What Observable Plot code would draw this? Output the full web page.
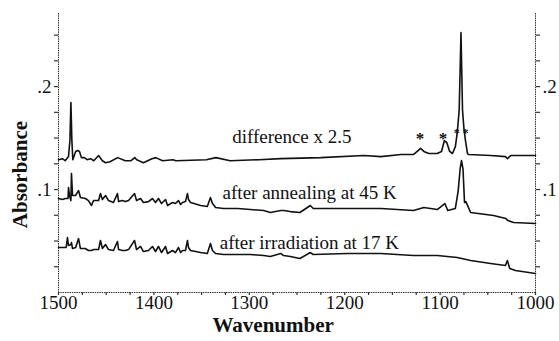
<!DOCTYPE html>
<html>
<head>
<meta charset="utf-8">
<script src="https://cdn.jsdelivr.net/npm/d3@7"></script>
<script src="https://cdn.jsdelivr.net/npm/@observablehq/plot@0.6"></script>
<style>
  html, body { margin: 0; padding: 0; background: #fff; }
</style>
</head>
<body>
<script>
// Wavenumber ticks (cm-1): labelled majors and minor ticks
const xMajor = [1500, 1400, 1300, 1200, 1100, 1000];
const xMinor = [1500, 1475, 1450, 1425, 1400, 1375, 1350, 1325, 1300, 1275, 1250, 1225, 1200, 1175, 1150, 1125, 1100, 1075, 1050, 1025, 1000];
const yTicks = [0.025, 0.05, 0.075, 0.1, 0.125, 0.15, 0.175, 0.2, 0.225, 0.25];
const yLabels = {"0.1": ".1", "0.2": ".2"};

// difference x 2.5 spectrum
const diffWn  = [1500, 1496, 1493, 1489.5, 1488, 1487, 1486, 1485, 1482, 1480, 1478, 1476, 1473, 1470, 1466.5, 1463, 1458, 1454, 1450.7, 1446, 1438, 1430, 1424, 1420, 1418, 1411, 1402, 1398, 1391, 1380, 1377, 1345, 1335, 1320, 1290, 1267, 1225, 1180, 1162, 1141, 1128, 1124, 1120.5, 1117, 1112, 1103, 1098.5, 1095.5, 1093, 1090, 1087, 1084, 1082, 1080, 1078.1, 1076.5, 1075, 1073.4, 1071.3, 1070, 1047, 1031.5, 1029.4, 1026, 1000];
const diffAbs = [0.129, 0.130, 0.128, 0.132, 0.148, 0.1845, 0.148, 0.129, 0.137, 0.138, 0.137, 0.131, 0.131, 0.129, 0.130, 0.128, 0.133, 0.128, 0.126, 0.127, 0.131, 0.128, 0.128, 0.131, 0.129, 0.126, 0.130, 0.131, 0.128, 0.129, 0.128, 0.129, 0.131, 0.128, 0.129, 0.130, 0.131, 0.133, 0.132, 0.134, 0.134, 0.137, 0.140, 0.137, 0.135, 0.135, 0.137, 0.1476, 0.1456, 0.137, 0.135, 0.1417, 0.1553, 0.177, 0.2524, 0.177, 0.1592, 0.1476, 0.135, 0.134, 0.133, 0.132, 0.130, 0.133, 0.133];

// after annealing at 45 K
const annWn  = [1500, 1496, 1492.7, 1490, 1489.5, 1488.5, 1487, 1486.4, 1485.3, 1482.2, 1479, 1477, 1471.7, 1468.6, 1465.4, 1463.3, 1458, 1456, 1454, 1450.7, 1447.6, 1442.4, 1438.2, 1437, 1433, 1430, 1426.6, 1420.3, 1418.2, 1414, 1411, 1405.7, 1401.5, 1398.3, 1395.2, 1392, 1387.8, 1385.7, 1380.5, 1377.4, 1374.2, 1372, 1370, 1366.9, 1364.8, 1363.7, 1361.6, 1351, 1344, 1340.7, 1338.6, 1335.4, 1327, 1312, 1299, 1285, 1278, 1267, 1264, 1257, 1247, 1236, 1233, 1197, 1162, 1128, 1117, 1103, 1095, 1092, 1084, 1081, 1079, 1077.6, 1076, 1074.4, 1073, 1068, 1044, 1031, 1029, 1023, 1000];
const annAbs = [0.0913, 0.0903, 0.0913, 0.0913, 0.1019, 0.0942, 0.0893, 0.1155, 0.0942, 0.0942, 0.0990, 0.0922, 0.0913, 0.0893, 0.0845, 0.0893, 0.0893, 0.0961, 0.0903, 0.0942, 0.0893, 0.0874, 0.0961, 0.0883, 0.0893, 0.0883, 0.0893, 0.0961, 0.0893, 0.0913, 0.0874, 0.0883, 0.0913, 0.0874, 0.0913, 0.0864, 0.0903, 0.0845, 0.0874, 0.0864, 0.0893, 0.0854, 0.0874, 0.0883, 0.0961, 0.0903, 0.0874, 0.0845, 0.0835, 0.0922, 0.0864, 0.0825, 0.0816, 0.0816, 0.0806, 0.0796, 0.0777, 0.0796, 0.0796, 0.0786, 0.0777, 0.0845, 0.0816, 0.0816, 0.0816, 0.0796, 0.0825, 0.0806, 0.0864, 0.0796, 0.0816, 0.0990, 0.120, 0.1282, 0.120, 0.0874, 0.0883, 0.0777, 0.0748, 0.0718, 0.0699, 0.0680, 0.0670];

// after irradiation at 17 K
const irrWn  = [1500, 1496, 1492, 1490.6, 1489.5, 1487, 1486.4, 1485.3, 1482, 1479, 1477, 1472, 1468.6, 1465.4, 1463, 1458, 1456, 1454, 1450.7, 1447.6, 1442.4, 1438.2, 1437, 1433, 1430, 1426.6, 1420.3, 1418.2, 1414, 1411, 1405.7, 1401.5, 1398.3, 1395.2, 1392, 1387.8, 1385.7, 1380.5, 1377.4, 1374.2, 1372, 1370, 1366.9, 1364.8, 1363.7, 1361.6, 1351, 1344, 1340.7, 1338.6, 1335.4, 1327, 1312, 1299, 1285, 1278, 1267, 1264, 1257, 1247, 1236, 1233, 1197, 1162, 1128, 1103, 1082, 1068, 1047, 1031.5, 1029.5, 1027, 1021, 1000];
const irrAbs = [0.0437, 0.0437, 0.0437, 0.0534, 0.0456, 0.0466, 0.0485, 0.0427, 0.0437, 0.0524, 0.0427, 0.0427, 0.0408, 0.0408, 0.0417, 0.0417, 0.0505, 0.0427, 0.0466, 0.0417, 0.0408, 0.0495, 0.0417, 0.0408, 0.0408, 0.0417, 0.0505, 0.0417, 0.0447, 0.0398, 0.0408, 0.0447, 0.0398, 0.0447, 0.0388, 0.0447, 0.0379, 0.0408, 0.0388, 0.0437, 0.0388, 0.0408, 0.0408, 0.0505, 0.0437, 0.0408, 0.0388, 0.0379, 0.0476, 0.0408, 0.0379, 0.0369, 0.0369, 0.0369, 0.0359, 0.0350, 0.0379, 0.0359, 0.0350, 0.0330, 0.0388, 0.0369, 0.0379, 0.0379, 0.0359, 0.0359, 0.0340, 0.0311, 0.0282, 0.0262, 0.0311, 0.0233, 0.0214, 0.0184];

// trace labels, axis titles and asterisk markers (annotation anchors in data units)
const labelText = ["difference x 2.5", "after annealing at 45 K", "after irradiation at 17 K"];
const labelWn   = [1318, 1328, 1331];
const labelAbs  = [0.1515, 0.097, 0.0485];
const starWn    = [1121, 1097];
const starAbs   = [0.150, 0.150];
const smallStarWn  = [1082.5, 1073.5];
const smallStarAbs = [0.155, 0.155];
const xTitle = "Wavenumber";
const yTitle = "Absorbance";

const toRows = (w, a) => w.map((x, i) => ({x, y: a[i]}));
const diff = toRows(diffWn, diffAbs);
const ann = toRows(annWn, annAbs);
const irr = toRows(irrWn, irrAbs);
const labels = labelText.map((t, i) => ({t, x: labelWn[i], y: labelAbs[i]}));
const stars = toRows(starWn, starAbs);
const smallStars = toRows(smallStarWn, smallStarAbs);

const yFmt = d => yLabels[String(Math.round(d * 1000) / 1000)] || "";
const ink = "#111";
const axisInk = "#333";

const chart = Plot.plot({
  width: 559,
  height: 341,
  marginLeft: 58,
  marginRight: 24,
  marginTop: 13,
  marginBottom: 49,
  style: {fontFamily: "'Liberation Serif', 'Times New Roman', serif", fontSize: "19px", color: ink, background: "#fff"},
  x: {domain: [1500, 1000]},
  y: {domain: [0, 0.271]},
  marks: [
    Plot.ruleX([1500, 1000], {stroke: axisInk, strokeWidth: 1, strokeDasharray: "1.5,0.8"}),
    Plot.ruleY([0], {stroke: axisInk, strokeWidth: 1, strokeDasharray: "1.5,0.8"}),
    Plot.axisX({ticks: xMinor, tickSize: 3, tickFormat: () => "", label: null, stroke: axisInk, strokeWidth: 1.2}),
    Plot.text(xMajor, {x: d => d, frameAnchor: "bottom", dy: 16, text: d => String(d), fill: ink, fontSize: 19}),
    Plot.axisY({anchor: "left", ticks: yTicks, tickSize: 4, tickPadding: 3, tickFormat: yFmt, label: null, stroke: axisInk, strokeWidth: 1.2}),
    Plot.axisY({anchor: "right", ticks: yTicks, tickSize: 4, tickPadding: 3, tickFormat: yFmt, label: null, stroke: axisInk, strokeWidth: 1.2}),
    Plot.line(diff, {x: "x", y: "y", stroke: ink, strokeWidth: 1.6}),
    Plot.line(ann, {x: "x", y: "y", stroke: ink, strokeWidth: 1.6}),
    Plot.line(irr, {x: "x", y: "y", stroke: ink, strokeWidth: 1.6}),
    Plot.text(labels, {x: "x", y: "y", text: "t", textAnchor: "start", fill: ink, fontSize: 19}),
    Plot.text(stars, {x: "x", y: "y", text: () => "*", fill: ink, fontSize: 17, fontWeight: "bold"}),
    Plot.text(smallStars, {x: "x", y: "y", text: () => "*", fill: ink, fontSize: 12, fontWeight: "bold"}),
    Plot.text([{x: 1275, t: xTitle}], {x: "x", frameAnchor: "bottom", dy: 39, text: "t", fill: ink, fontSize: 21, fontWeight: "bold"}),
    Plot.text([{x: 1500, y: 0.1146, t: yTitle}], {x: "x", y: "y", dx: -38, rotate: -90, text: "t", fill: ink, fontSize: 21, fontWeight: "bold"})
  ]
});
document.body.appendChild(chart);
</script>
</body>
</html>
